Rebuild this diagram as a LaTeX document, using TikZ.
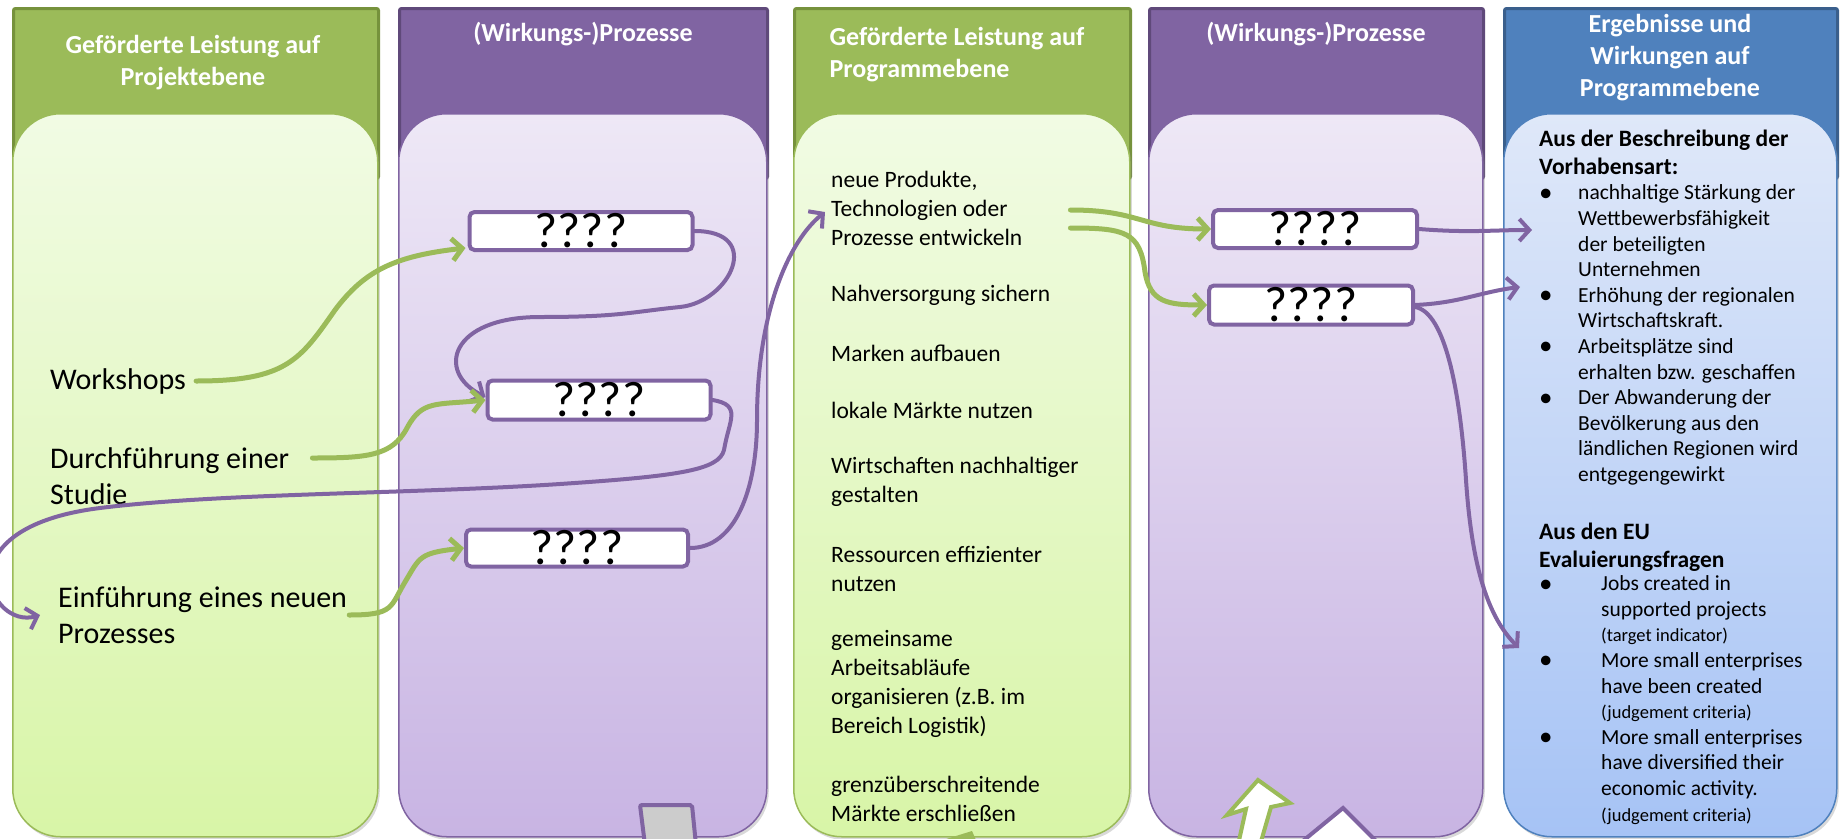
\documentclass[tikz,border=0pt]{standalone}
\usepackage{fontspec}
\setmainfont{Carlito}
\usetikzlibrary{arrows.meta,positioning,shadows}

\definecolor{grn}{HTML}{9BBB59}
\definecolor{grndark}{HTML}{76923C}
\definecolor{grntop}{HTML}{F1FBE4}
\definecolor{grnbot}{HTML}{D8F5A7}
\definecolor{lila}{HTML}{8064A2}
\definecolor{liladark}{HTML}{5F497A}
\definecolor{lilatop}{HTML}{EEE8F6}
\definecolor{lilabot}{HTML}{C8B4E3}
\definecolor{blau}{HTML}{4F81BD}
\definecolor{blaudark}{HTML}{3A5F8C}
\definecolor{blautop}{HTML}{DFE8F9}
\definecolor{blaubot}{HTML}{A6C3F5}

\newcommand{\kpunkt}{\raisebox{-1.5pt}{\fontsize{27}{27}\selectfont\textbullet}}

\tikzset{
  kopf/.style={anchor=north west, rounded corners=2pt, line width=3pt},
  feld/.style={anchor=north west, rounded corners=48pt, line width=1.5pt,
    drop shadow={opacity=0.3, shadow xshift=2pt, shadow yshift=-3pt}},
  kopftext/.style={text=white, align=center, font=\bfseries\fontsize{26}{32}\selectfont},
  gross/.style={anchor=west, align=left, inner sep=2pt, font=\fontsize{30}{36}\selectfont},
  punkt/.style={anchor=west, align=left, inner sep=2pt, font=\fontsize{23.5}{29}\selectfont},
  liste/.style={anchor=west, align=left, inner sep=2pt, font=\fontsize{21.5}{25.6}\selectfont},
  listkopf/.style={anchor=west, align=left, inner sep=2pt, font=\bfseries\fontsize{23.5}{28}\selectfont},
  frage/.style={draw=lila, fill=white, line width=4pt, rounded corners=5pt, inner xsep=0pt,
    inner ysep=2pt, text height=32pt, text depth=0pt, font=\fontsize{50}{50}\selectfont},
  gpfeil/.style={draw=grn, line width=5pt, line cap=round, ->},
  lpfeil/.style={draw=lila, line width=4pt, line cap=round, ->},
}

\begin{document}
\begin{tikzpicture}[x=1pt, y=-1pt, >={Straight Barb[length=10pt,width=22pt]}]
  \useasboundingbox (0,0) rectangle (1841,838);

  \node[kopf, fill=grn, draw=grndark, minimum width=365pt, minimum height=170pt] (k1) at (12,7) {};
  \node[kopf, fill=lila, draw=liladark, minimum width=368pt, minimum height=170pt] (k2) at (398,7) {};
  \node[kopf, fill=grn, draw=grndark, minimum width=336pt, minimum height=170pt] (k3) at (793,7) {};
  \node[kopf, fill=lila, draw=liladark, minimum width=334pt, minimum height=170pt] (k4) at (1148,7) {};
  \node[kopf, fill=blau, draw=blaudark, minimum width=333pt, minimum height=170pt] (k5) at (1503,7) {};

  \node[feld, draw=grn, top color=grntop, bottom color=grnbot, minimum width=365pt, minimum height=723pt] (f1) at (12,113) {};
  \node[feld, draw=lila, top color=lilatop, bottom color=lilabot, minimum width=368pt, minimum height=723pt] (f2) at (398,113) {};
  \node[feld, draw=grn, top color=grntop, bottom color=grnbot, minimum width=336pt, minimum height=723pt] (f3) at (793,113) {};
  \node[feld, draw=lila, top color=lilatop, bottom color=lilabot, minimum width=334pt, minimum height=723pt] (f4) at (1148,113) {};
  \node[feld, draw=blau, top color=blautop, bottom color=blaubot, minimum width=333pt, minimum height=723pt] (f5) at (1503,113) {};

  \node[kopftext] (kt1) at (193,63) {Geförderte Leistung auf\\Projektebene};
  \node[kopftext] (kt2) at (583,34) {(Wirkungs-)Prozesse};
  \node[kopftext, anchor=west, align=left] (kt3) at (826,55) {Geförderte Leistung auf\\Programmebene};
  \node[kopftext] (kt4) at (1316,34) {(Wirkungs-)Prozesse};
  \node[kopftext] (kt5) at (1670,58) {Ergebnisse und\\Wirkungen auf\\Programmebene};

  \node[gross] (w1) at (48,381) {Workshops};
  \node[gross] (w2) at (48,476) {Durchführung einer\\Studie};
  \node[gross] (w3) at (56,615) {Einführung eines neuen\\Prozesses};

  \node[punkt] (n1) at (829,208) {neue Produkte,\\Technologien oder\\Prozesse entwickeln};
  \node[punkt] (n2) at (829,295) {Nahversorgung sichern};
  \node[punkt] (n3) at (829,353) {Marken aufbauen};
  \node[punkt] (n4) at (829,410) {lokale Märkte nutzen};
  \node[punkt] (n5) at (829,482) {Wirtschaften nachhaltiger\\gestalten};
  \node[punkt] (n6) at (829,569) {Ressourcen effizienter\\nutzen};
  \node[punkt] (n7) at (829,684) {gemeinsame\\Arbeitsabläufe\\organisieren (z.B. im\\Bereich Logistik)};
  \node[punkt] (n8) at (829,799) {grenzüberschreitende\\Märkte erschließen};

  \node[listkopf] (e1) at (1537,152) {Aus der Beschreibung der\\Vorhabensart:};
  \node[liste] (e2) at (1537,335) {\makebox[39pt][l]{\kpunkt}nachhaltige Stärkung der\\
    \hspace*{39pt}Wettbewerbsfähigkeit\\
    \hspace*{39pt}der beteiligten\\
    \hspace*{39pt}Unternehmen\\
    \makebox[39pt][l]{\kpunkt}Erhöhung der regionalen\\
    \hspace*{39pt}Wirtschaftskraft.\\
    \makebox[39pt][l]{\kpunkt}Arbeitsplätze sind\\
    \hspace*{39pt}erhalten bzw. geschaffen\\
    \makebox[39pt][l]{\kpunkt}Der Abwanderung der\\
    \hspace*{39pt}Bevölkerung aus den\\
    \hspace*{39pt}ländlichen Regionen wird\\
    \hspace*{39pt}entgegengewirkt};
  \node[listkopf] (e3) at (1537,547) {Aus den EU\\Evaluierungsfragen};
  \node[liste] (e4) at (1537,700) {\makebox[62pt][l]{\kpunkt}Jobs created in\\
    \hspace*{62pt}supported projects\\
    \hspace*{62pt}{\fontsize{18.5}{20}\selectfont (target indicator)}\\
    \makebox[62pt][l]{\kpunkt}More small enterprises\\
    \hspace*{62pt}have been created\\
    \hspace*{62pt}{\fontsize{18.5}{20}\selectfont (judgement criteria)}\\
    \makebox[62pt][l]{\kpunkt}More small enterprises\\
    \hspace*{62pt}have diversified their\\
    \hspace*{62pt}economic activity.\\
    \hspace*{62pt}{\fontsize{18.5}{20}\selectfont (judgement criteria)}};

  \coordinate (z1) at (1532,230);
  \coordinate (z2) at (1520,287);
  \coordinate (z3) at (1519,648);

  \node[frage, minimum width=223pt, minimum height=38pt] (q1) at (581,231) {????};
  \node[frage, minimum width=223pt, minimum height=39pt] (q2) at (599,400) {????};
  \node[frage, minimum width=222pt, minimum height=37pt] (q3) at (577,548) {????};
  \node[frage, minimum width=204pt, minimum height=38pt] (q4) at (1315,229) {????};
  \node[frage, minimum width=204pt, minimum height=39pt] (q5) at (1311,305) {????};

  \draw[lpfeil] (q1.east) .. controls +(70,0) and +(50,-5) .. (680,307)
    .. controls +(-50,5) and +(80,0) .. (540,317)
    .. controls +(-90,0) and +(-50,-25) .. ([yshift=3pt]q2.west);
  \draw[lpfeil] (q2.east) .. controls +(30,5) and +(5,-30) .. (724,450)
    .. controls +(-5,20) and +(120,-8) .. (560,484)
    .. controls +(-150,10) and +(120,-15) .. (100,508)
    .. controls +(-160,20) and +(-50,15) .. ([xshift=-16pt]w3.west);
  \draw[lpfeil] (q3.east) .. controls +(45,0) and +(0,70) .. (757,420)
    .. controls +(0,-110) and +(-35,28) .. ([shift={(-4pt,-4pt)}]n1.west);
  \draw[lpfeil] (q4.east) .. controls +(50,4) and +(-40,0) .. (z1);
  \draw[lpfeil] (q5.east) .. controls +(45,-2) and +(-40,5) .. (z2);
  \draw[lpfeil] ([yshift=-2pt]q5.east) .. controls +(30,5) and +(-6,-90) .. (1466,480)
    .. controls +(6,90) and +(-30,-30) .. (z3);

  \draw[gpfeil] ([xshift=8pt]w1.east) .. controls +(90,0) and +(-35,50) .. (335,310)
    .. controls +(30,-40) and +(-70,8) .. ([shift={(-2pt,4pt)}]q1.south west);
  \draw[gpfeil] ([shift={(21pt,18pt)}]w2.east) .. controls +(55,0) and +(-15,28) .. (407,428)
    .. controls +(15,-28) and +(-50,5) .. (q2.west);
  \draw[gpfeil] (w3.east) .. controls +(45,0) and +(-15,25) .. (405,582)
    .. controls +(15,-25) and +(-45,5) .. (q3.west);
  \draw[gpfeil] ([shift={(46pt,-2pt)}]n1.east) .. controls +(70,0) and +(-70,0) .. (q4.west);
  \draw[gpfeil] ([shift={(46pt,-20pt)}]n1.east) .. controls +(55,0) and +(-5,-40) .. (1145,272)
    .. controls +(5,30) and +(-40,0) .. (q5.west);

  \draw[draw=lila, fill=gray!40, line width=4pt, rounded corners=2pt] (645,845) -- (640,805) -- (692,805) -- (696,845);
  \fill[grn] (943,840) -- (972,831) -- (976,840) -- cycle;
  \draw[draw=grn, fill=white, line width=4pt] (1238,845) -- (1246,809) -- (1227,815) -- (1258,780)
    -- (1290,803) -- (1271,807) -- (1260,845);
  \draw[draw=lila, fill=white, line width=4pt] (1298,845) -- (1343,808) -- (1380,845);
\end{tikzpicture}
\end{document}
